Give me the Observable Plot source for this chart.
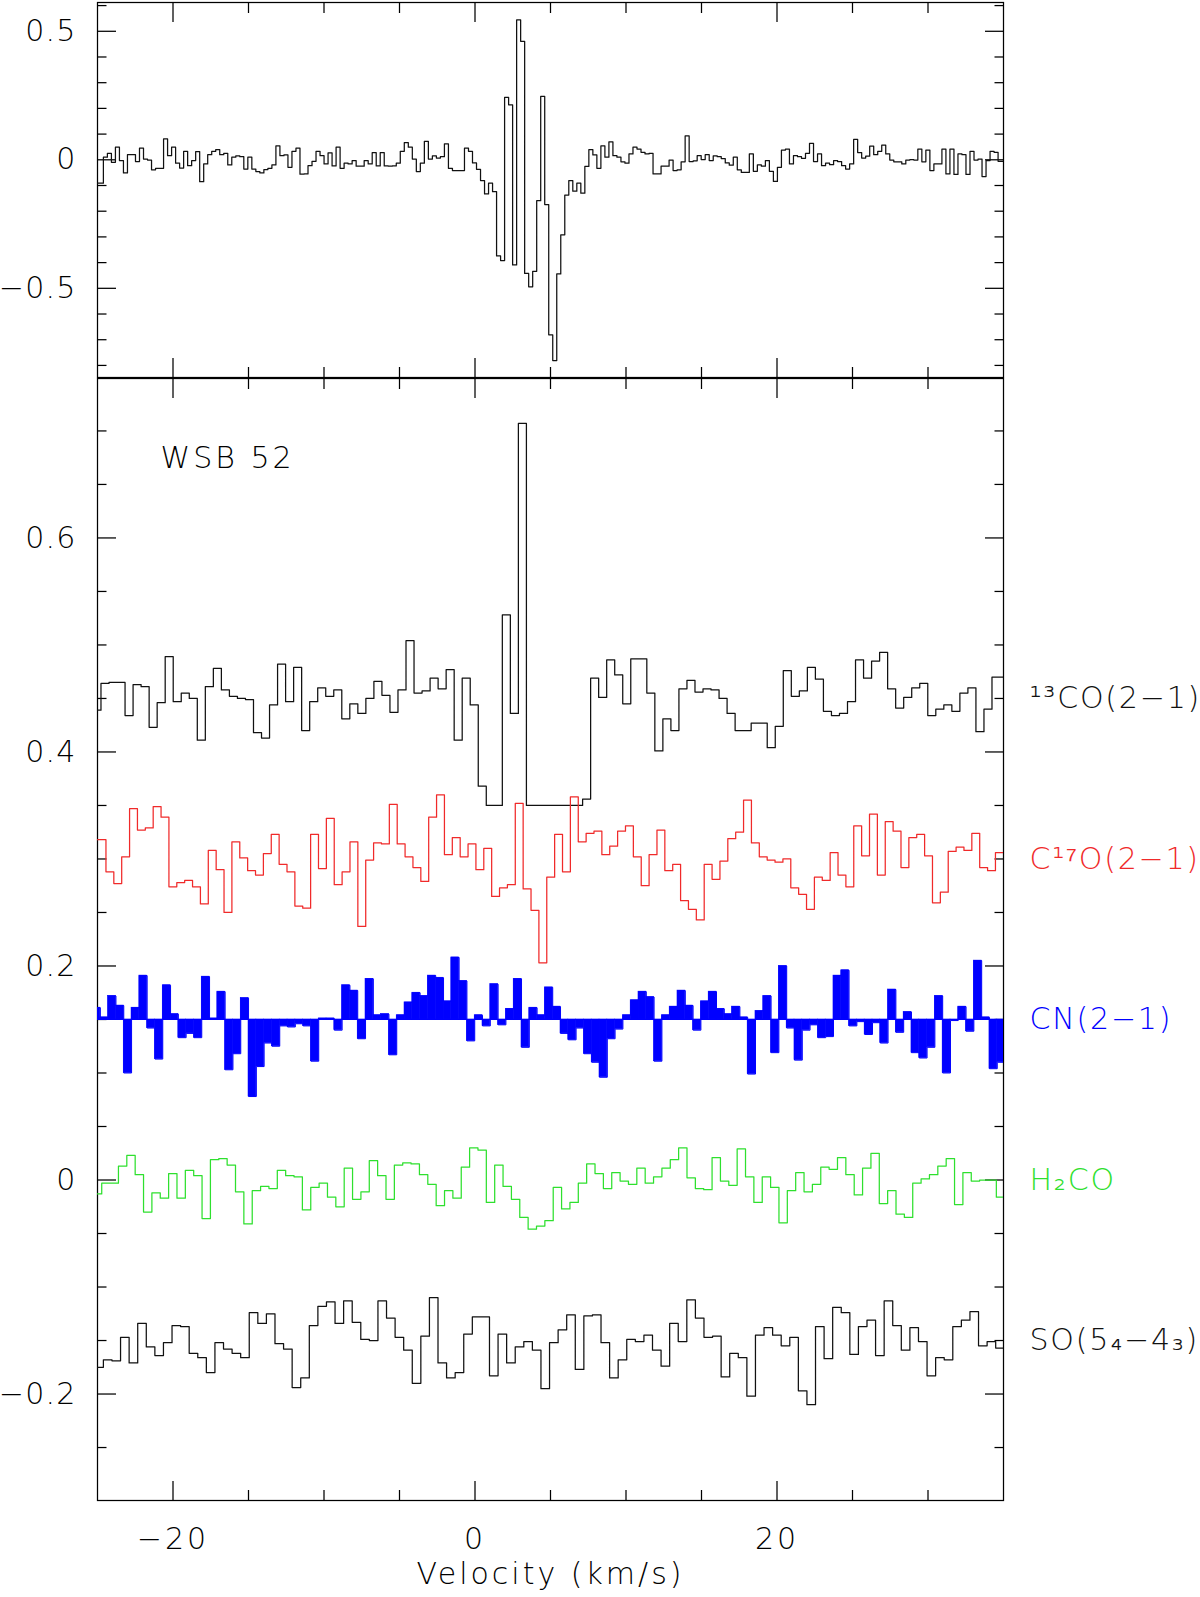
<!DOCTYPE html>
<html>
<head>
<meta charset="utf-8">
<script src="https://cdn.jsdelivr.net/npm/d3@7"></script>
<script src="https://cdn.jsdelivr.net/npm/@observablehq/plot@0.6"></script>
<style>
  body { margin: 0; background: #fff; }
  #wrap { position: relative; width: 1200px; height: 1597px; overflow: hidden; background: #fff; }
  #wrap svg { position: absolute; left: 0; }
</style>
</head>
<body>
<div id="wrap"></div>
<script>
// ---------------- data ----------------
const xDomain = [-25, 35];

// top panel: channel grid (first edge, width in km/s) and intensities (first value = partial channel before first edge)
const topGrid = [-24.61, 0.2657];
const topValues = [
 -0.091, 0.010, 0.025, -0.010, 0.049, -0.003, -0.051, 0.020, 0.020, -0.007,
 0.045, 0.003, -0.001, -0.039, -0.033, -0.033, 0.081, 0.016, 0.049, -0.013,
 -0.032, 0.033, -0.023, -0.003, 0.032, -0.085, -0.016, 0.020, 0.033, 0.040,
 0.020, 0.025, -0.020, 0.010, 0.015, 0.012, -0.036, 0.010, -0.036, -0.046,
 -0.051, -0.038, -0.033, -0.020, 0.054, 0.016, 0.019, -0.029, 0.033, 0.045,
 -0.056, -0.055, -0.023, -0.006, 0.033, 0.016, -0.016, 0.027, -0.024, 0.049,
 -0.033, -0.013, -0.016, -0.003, -0.025, -0.025, -0.003, -0.016, 0.028, -0.024,
 0.028, -0.024, -0.025, -0.024, -0.013, 0.033, 0.067, 0.049, 0.003, -0.046,
 -0.013, 0.072, 0.003, 0.015, 0.007, 0.012, 0.062, -0.033, -0.042, -0.042,
 -0.042, 0.045, 0.033, -0.012, -0.037, -0.081, -0.133, -0.091, -0.124, -0.374,
 -0.392, 0.243, 0.214, -0.409, 0.544, 0.461, -0.442, -0.494, -0.434, -0.159,
 0.247, -0.174, -0.681, -0.781, -0.444, -0.292, -0.137, -0.081, -0.122, -0.091,
 -0.130, -0.026, 0.040, 0.019, -0.033, 0.054, 0.010, 0.070, 0.016, 0.010,
 -0.008, -0.013, 0.023, 0.049, 0.042, 0.029, 0.023, 0.025, -0.055, -0.055,
 -0.025, -0.025, -0.001, -0.042, -0.039, -0.008, 0.093, -0.007, -0.004, 0.016,
 0.001, 0.020, -0.003, 0.015, 0.012, 0.005, -0.012, -0.021, 0.010, -0.039,
 -0.049, -0.049, 0.023, -0.045, -0.020, -0.025, -0.003, -0.045, -0.084, -0.029,
 0.038, 0.042, -0.016, 0.016, 0.012, 0.006, 0.025, 0.064, -0.007, 0.023,
 -0.023, -0.013, -0.019, -0.003, -0.007, -0.023, -0.036, -0.016, 0.079, 0.028,
 0.007, 0.014, 0.053, 0.020, 0.033, 0.057, 0.023, -0.001, -0.008, -0.008,
 -0.016, -0.001, 0.001, -0.001, 0.042, -0.008, 0.038, -0.042, -0.016, -0.016,
 0.042, -0.055, 0.042, -0.057, 0.023, 0.020, -0.057, 0.033, -0.001, 0.003,
 -0.065, -0.003, 0.033, 0.029, -0.006, -0.006
];

// bottom panel spectra (offset baselines: 0.45, 0.30, 0.15, 0, -0.15)
const co13Grid = [-24.77, 0.5316];
const co13Values = [
 0.439, 0.464, 0.465, 0.465, 0.434, 0.463, 0.461, 0.423, 0.446, 0.489,
 0.447, 0.455, 0.450, 0.411, 0.461, 0.478, 0.458, 0.452, 0.450, 0.449,
 0.418, 0.413, 0.444, 0.482, 0.447, 0.479, 0.420, 0.447, 0.460, 0.452,
 0.458, 0.431, 0.445, 0.436, 0.450, 0.466, 0.453, 0.437, 0.458, 0.504,
 0.455, 0.457, 0.469, 0.459, 0.477, 0.411, 0.469, 0.444, 0.368, 0.350,
 0.350, 0.528, 0.436, 0.707, 0.350, 0.350, 0.350, 0.350, 0.350, 0.350,
 0.350, 0.356, 0.469, 0.451, 0.486, 0.472, 0.445, 0.487, 0.487, 0.455,
 0.401, 0.431, 0.420, 0.459, 0.467, 0.456, 0.459, 0.458, 0.450, 0.436,
 0.420, 0.420, 0.427, 0.427, 0.404, 0.424, 0.476, 0.452, 0.457, 0.479,
 0.468, 0.438, 0.434, 0.436, 0.447, 0.486, 0.469, 0.485, 0.493, 0.459,
 0.441, 0.451, 0.460, 0.464, 0.434, 0.440, 0.444, 0.438, 0.455, 0.460,
 0.419, 0.440, 0.470, 0.470
];
const c17oGrid = [-24.44, 0.5213];
const c17oValues = [
 0.318, 0.288, 0.277, 0.302, 0.347, 0.327, 0.329, 0.349, 0.339, 0.274,
 0.278, 0.280, 0.274, 0.258, 0.308, 0.290, 0.250, 0.316, 0.301, 0.289,
 0.285, 0.305, 0.323, 0.295, 0.288, 0.256, 0.254, 0.323, 0.291, 0.338,
 0.276, 0.288, 0.316, 0.237, 0.299, 0.315, 0.314, 0.351, 0.314, 0.302,
 0.292, 0.279, 0.339, 0.360, 0.304, 0.320, 0.302, 0.314, 0.290, 0.310,
 0.265, 0.273, 0.276, 0.352, 0.272, 0.252, 0.203, 0.283, 0.323, 0.288,
 0.358, 0.316, 0.324, 0.326, 0.304, 0.312, 0.326, 0.331, 0.302, 0.275,
 0.304, 0.327, 0.289, 0.295, 0.261, 0.253, 0.243, 0.295, 0.281, 0.298,
 0.319, 0.325, 0.355, 0.315, 0.302, 0.299, 0.297, 0.300, 0.273, 0.267,
 0.253, 0.283, 0.280, 0.306, 0.285, 0.274, 0.331, 0.303, 0.342, 0.285,
 0.335, 0.326, 0.292, 0.320, 0.323, 0.303, 0.259, 0.269, 0.307, 0.311,
 0.308, 0.324, 0.292, 0.289, 0.306
];
const cnGrid = [-24.81, 0.5165];
const cnValues = [
 0.161, 0.152, 0.172, 0.163, 0.100, 0.161, 0.191, 0.142, 0.113, 0.182,
 0.155, 0.133, 0.137, 0.133, 0.190, 0.151, 0.176, 0.103, 0.118, 0.170,
 0.078, 0.106, 0.128, 0.125, 0.144, 0.143, 0.146, 0.144, 0.111, 0.151,
 0.151, 0.140, 0.182, 0.177, 0.132, 0.188, 0.154, 0.155, 0.117, 0.154,
 0.166, 0.175, 0.172, 0.191, 0.189, 0.167, 0.208, 0.186, 0.130, 0.154,
 0.144, 0.183, 0.145, 0.160, 0.188, 0.124, 0.161, 0.154, 0.180, 0.162,
 0.137, 0.131, 0.142, 0.118, 0.110, 0.096, 0.132, 0.141, 0.154, 0.168,
 0.176, 0.171, 0.111, 0.154, 0.162, 0.177, 0.163, 0.140, 0.167, 0.176,
 0.160, 0.155, 0.162, 0.152, 0.099, 0.158, 0.172, 0.119, 0.200, 0.142,
 0.112, 0.140, 0.145, 0.133, 0.134, 0.191, 0.196, 0.144, 0.148, 0.136,
 0.147, 0.128, 0.178, 0.138, 0.157, 0.119, 0.114, 0.124, 0.172, 0.100,
 0.149, 0.162, 0.139, 0.205, 0.152, 0.104, 0.110
];
const cnBaseline = 0.15;
const h2coGrid = [-24.72, 0.5537];
const h2coValues = [
 -0.013, -0.003, -0.003, 0.013, 0.023, 0.005, -0.030, -0.012, -0.017, 0.006,
 -0.017, 0.009, 0.004, -0.036, 0.019, 0.020, 0.014, -0.011, -0.041, -0.010,
 -0.006, -0.008, 0.009, 0.004, 0.003, -0.028, -0.007, -0.003, -0.016, -0.025,
 0.011, -0.018, -0.011, 0.018, 0.004, -0.018, 0.014, 0.016, 0.015, 0.005,
 -0.004, -0.024, -0.010, -0.017, 0.012, 0.030, 0.028, -0.021, 0.014, -0.006,
 -0.018, -0.035, -0.046, -0.043, -0.038, -0.007, -0.027, -0.021, -0.003, 0.015,
 0.006, -0.008, 0.007, -0.001, -0.004, 0.011, -0.003, 0.003, 0.011, 0.019,
 0.030, 0.002, -0.008, -0.009, 0.021, -0.001, -0.005, 0.029, 0.003, -0.021,
 0.003, -0.007, -0.040, -0.010, 0.007, -0.011, -0.004, 0.012, 0.010, 0.021,
 0.005, -0.014, 0.011, 0.025, -0.022, -0.010, -0.032, -0.035, -0.003, 0.001,
 0.005, 0.013, 0.020, -0.023, 0.007, -0.001, 0.000, 0.000, -0.016
];
const soGrid = [-24.61, 0.5682];
const soValues = [
 -0.175, -0.168, -0.169, -0.147, -0.171, -0.134, -0.156, -0.164, -0.152, -0.136,
 -0.137, -0.162, -0.166, -0.180, -0.152, -0.158, -0.162, -0.166, -0.124, -0.134,
 -0.125, -0.153, -0.158, -0.194, -0.185, -0.136, -0.118, -0.114, -0.134, -0.113,
 -0.133, -0.149, -0.150, -0.113, -0.129, -0.147, -0.159, -0.190, -0.146, -0.110,
 -0.171, -0.185, -0.180, -0.144, -0.128, -0.128, -0.183, -0.144, -0.171, -0.156,
 -0.151, -0.159, -0.195, -0.152, -0.140, -0.126, -0.177, -0.127, -0.126, -0.152,
 -0.185, -0.168, -0.149, -0.151, -0.145, -0.159, -0.174, -0.134, -0.151, -0.112,
 -0.129, -0.147, -0.146, -0.184, -0.162, -0.166, -0.202, -0.145, -0.138, -0.145,
 -0.155, -0.147, -0.197, -0.210, -0.137, -0.167, -0.119, -0.124, -0.163, -0.137,
 -0.131, -0.164, -0.113, -0.136, -0.159, -0.138, -0.151, -0.183, -0.166, -0.168,
 -0.137, -0.131, -0.123, -0.155, -0.151, -0.157
];

const specLabels = ["\u00b9\u00b3CO(2\u22121)", "C\u00b9\u2077O(2\u22121)", "CN(2\u22121)", "H\u2082CO", "SO(5\u2084\u22124\u2083)"];
const specOffsets = [0.45, 0.30, 0.15, 0, -0.15];
const sourceName = "WSB 52";
const xLabel = "Velocity (km/s)";

// ticks
const xMajor = [-20, 0, 20];
const xMinor = [-15, -10, -5, 5, 10, 15, 25, 30];
const topMajorY = [-0.5, 0, 0.5];
const topMinorY = [-0.8, -0.7, -0.6, -0.4, -0.3, -0.2, -0.1, 0.1, 0.2, 0.3, 0.4, 0.6];
const botMajorY = [-0.2, 0, 0.2, 0.4, 0.6];
const botMinorY = [-0.25, -0.15, -0.1, -0.05, 0.05, 0.1, 0.15, 0.25, 0.3, 0.35, 0.45, 0.5, 0.55, 0.65, 0.7];

// ---------------- styles ----------------
const COLORS = {black: "#111111", red: "#f02a2a", blue: "#0000ff", green: "#2ee02e"};
const labelColors = [COLORS.black, COLORS.red, COLORS.blue, COLORS.green, COLORS.black];
const FONT = '"DejaVu Sans", "Liberation Sans", sans-serif';
const FS = 30;
const LW = 1.25;

// ---------------- helpers ----------------
function stepRows([v0, dv], vals) {
  const n = vals.length;
  const rows = vals.map((y, i) => ({v: i === 0 ? Math.min(v0 - dv, xDomain[0]) : v0 + (i - 1) * dv, y}));
  rows.push({v: Math.max(v0 + (n - 1) * dv, xDomain[1]), y: vals[n - 1]});
  return rows;
}
function barRows([v0, dv], vals, base) {
  const n = vals.length;
  return vals.map((y, i) => ({
    x1: i === 0 ? Math.min(v0 - dv, xDomain[0]) : v0 + (i - 1) * dv,
    x2: i === n - 1 ? Math.max(v0 + i * dv, xDomain[1]) : v0 + i * dv,
    y1: base, y2: y
  }));
}
const fmt = d => (d < 0 ? "\u2212" : "") + Math.abs(d);
const blank = () => "";

function frameTicks(majorY, minorY) {
  const o = {tickFormat: blank, label: null, strokeWidth: LW};
  return [
    Plot.axisY(majorY, {...o, anchor: "left", tickSize: -19}),
    Plot.axisY(minorY, {...o, anchor: "left", tickSize: -9.5}),
    Plot.axisY(majorY, {...o, anchor: "right", tickSize: -19}),
    Plot.axisY(minorY, {...o, anchor: "right", tickSize: -9.5}),
    Plot.axisX(xMajor, {...o, anchor: "bottom", tickSize: -19}),
    Plot.axisX(xMinor, {...o, anchor: "bottom", tickSize: -10}),
    Plot.axisX(xMajor, {...o, anchor: "top", tickSize: -19}),
    Plot.axisX(xMinor, {...o, anchor: "top", tickSize: -10})
  ];
}
const svgStyle = {background: "transparent", fontFamily: FONT, fontSize: FS + "px", fontWeight: 200, letterSpacing: "3px", overflow: "visible"};

// ---------------- top panel ----------------
const topPlot = Plot.plot({
  width: 1200, height: 380,
  marginLeft: 97, marginRight: 197, marginTop: 2, marginBottom: 3,
  x: {domain: xDomain},
  y: {domain: [-0.847, 0.612]},
  style: svgStyle,
  marks: [
    Plot.frame({stroke: "#000", strokeWidth: LW}),
    ...frameTicks(topMajorY, topMinorY),
    Plot.axisY(topMajorY, {anchor: "left", tickSize: 0, tickPadding: 21, tickFormat: fmt, fontSize: FS, label: null}),
    Plot.line(stepRows(topGrid, topValues), {x: "v", y: "y", curve: "step-after", stroke: COLORS.black, strokeWidth: LW, clip: true})
  ]
});
topPlot.style.top = "0px";

// ---------------- bottom panel ----------------
const botPlot = Plot.plot({
  width: 1200, height: 1225,
  marginLeft: 97, marginRight: 197, marginTop: 6, marginBottom: 97,
  x: {domain: xDomain},
  y: {domain: [-0.2995, 0.749]},
  style: svgStyle,
  marks: [
    Plot.frame({stroke: "#000", strokeWidth: LW}),
    ...frameTicks(botMajorY, botMinorY),
    Plot.axisY(botMajorY, {anchor: "left", tickSize: 0, tickPadding: 21, tickFormat: fmt, fontSize: FS, label: null}),
    Plot.axisX(xMajor, {anchor: "bottom", tickSize: 0, tickPadding: 27, tickFormat: fmt, fontSize: FS, label: null}),
    Plot.text([xLabel], {frameAnchor: "bottom", dy: 74, text: d => d, fontSize: FS, lineAnchor: "middle"}),
    Plot.rect(barRows(cnGrid, cnValues, cnBaseline), {x1: "x1", x2: "x2", y1: "y1", y2: "y2", fill: COLORS.blue, stroke: COLORS.blue, strokeWidth: 0.6, clip: true}),
    Plot.line(stepRows(cnGrid, cnValues), {x: "v", y: "y", curve: "step-after", stroke: COLORS.blue, strokeWidth: 1, clip: true}),
    Plot.ruleY([cnBaseline], {stroke: COLORS.blue, strokeWidth: 1.2, clip: true}),
    Plot.line(stepRows(co13Grid, co13Values), {x: "v", y: "y", curve: "step-after", stroke: COLORS.black, strokeWidth: LW, clip: true}),
    Plot.line(stepRows(c17oGrid, c17oValues), {x: "v", y: "y", curve: "step-after", stroke: COLORS.red, strokeWidth: LW, clip: true}),
    Plot.line(stepRows(h2coGrid, h2coValues), {x: "v", y: "y", curve: "step-after", stroke: COLORS.green, strokeWidth: LW, clip: true}),
    Plot.line(stepRows(soGrid, soValues), {x: "v", y: "y", curve: "step-after", stroke: COLORS.black, strokeWidth: LW, clip: true}),
    Plot.text(specLabels, {frameAnchor: "right", y: (d, i) => specOffsets[i], text: d => d, dx: 26, textAnchor: "start", lineAnchor: "middle", fontSize: FS, fill: (d, i) => labelColors[i]}),
    Plot.text([sourceName], {frameAnchor: "top-left", dx: 63, dy: 80, text: d => d, textAnchor: "start", lineAnchor: "middle", fontSize: FS})
  ],
  color: {type: "identity"}
});
botPlot.style.top = "372px";

// letter spacing for the y tick labels and for the line names at the right
for (const svg of [topPlot, botPlot]) {
  svg.querySelectorAll('g[aria-label="y-axis tick label"] text').forEach(t => { t.style.letterSpacing = "1.2px"; });
  svg.querySelectorAll("text").forEach(t => {
    if (specLabels.includes(t.textContent)) t.style.letterSpacing = "1.8px";
  });
}

const wrap = document.getElementById("wrap");
wrap.appendChild(topPlot);
wrap.appendChild(botPlot);
</script>
</body>
</html>
